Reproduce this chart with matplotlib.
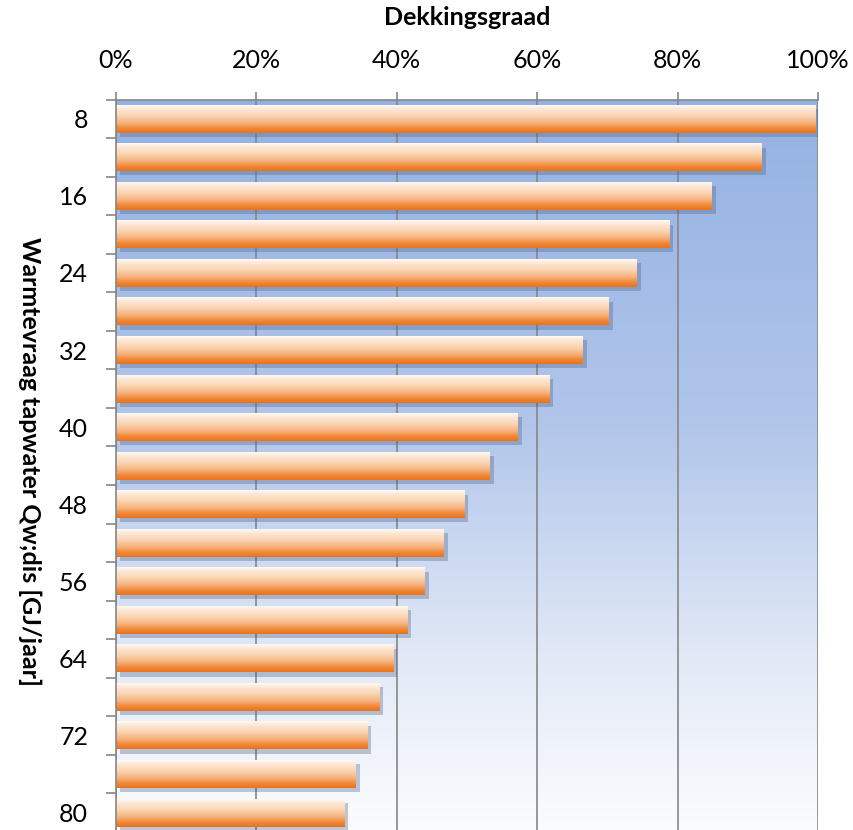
import matplotlib
matplotlib.use('Agg')
import matplotlib.pyplot as plt
import matplotlib.patheffects as pe
from matplotlib.colors import LinearSegmentedColormap
import numpy as np

# warmtevraag tapwater (GJ/jaar) and dekkingsgraad (%)
warmtevraag = [8, 12, 16, 20, 24, 28, 32, 36, 40, 44, 48, 52, 56, 60, 64, 68, 72, 76, 80]
dekking = [99.6, 92.0, 84.9, 78.8, 74.2, 70.2, 66.5, 61.7, 57.2, 53.2,
           49.6, 46.7, 44.0, 41.5, 39.5, 37.5, 35.8, 34.1, 32.5]
xticks = [0, 20, 40, 60, 80, 100]

plt.rcParams['font.family'] = ['Lato', 'DejaVu Sans']

fig = plt.figure(figsize=(8.54, 8.30), dpi=100)
ax = fig.add_axes([0.1358, -0.0024, 0.822, 0.8825])

n = len(warmtevraag)
ypos = np.arange(n)

# background gradient (blue top -> white bottom)
bg_cmap = LinearSegmentedColormap.from_list(
    'bg', [(0.0, '#93b1e2'), (0.45, '#b2c6ea'), (0.78, '#e4ebf7'), (1.0, '#fbfcfe')])
grad = np.linspace(0, 1, 256).reshape(-1, 1)
ax.imshow(grad, cmap=bg_cmap, aspect='auto', extent=(0, 100, n - 0.5, -0.5),
          origin='upper', zorder=0)

ax.set_axisbelow(True)
ax.grid(axis='x', color='#868686', linewidth=1.2, zorder=1)
ax.grid(axis='y', visible=False)

bar_cmap = LinearSegmentedColormap.from_list(
    'bar', [(0.0, '#fffaf4'), (0.12, '#fdeadb'), (0.40, '#fbd3b0'),
            (0.65, '#f7b07a'), (0.82, '#f08a3a'), (1.0, '#e9721c')])
bh = 0.72
bars = ax.barh(ypos, dekking, height=bh, color='#f6a463', zorder=2,
               path_effects=[pe.SimplePatchShadow(offset=(3, -3), shadow_rgbFace='#4f6287', alpha=0.35),
                             pe.Normal()])
for rect in bars:
    x0, y0 = rect.get_x(), rect.get_y()
    w, h = rect.get_width(), rect.get_height()
    ax.imshow(grad, cmap=bar_cmap, aspect='auto', extent=(x0, x0 + w, y0 + h, y0),
              origin='upper', zorder=3)

ax.set_xlim(0, 100)
ax.set_ylim(n - 0.5, -0.5)

ax.xaxis.tick_top()
ax.xaxis.set_label_position('top')
ax.set_xticks(xticks)
ax.set_xticklabels([f'{v}%' for v in xticks], fontsize=18)
ax.tick_params(axis='x', direction='out', length=6, width=1.2, color='#868686', pad=14)
ax.set_xlabel('Dekkingsgraad', fontsize=18, fontweight='bold', labelpad=17)

ax.set_yticks(np.arange(n + 1) - 0.5)
ax.set_yticklabels([])
ax.tick_params(axis='y', which='major', direction='out', length=7, width=1.2, color='#868686')
ax.set_yticks(ypos[::2], minor=True)
ax.set_yticklabels([str(v) for v in warmtevraag[::2]], minor=True, fontsize=18)
ax.tick_params(axis='y', which='minor', length=0, pad=20)

for s in ['right', 'bottom']:
    ax.spines[s].set_visible(False)
for s in ['top', 'left']:
    ax.spines[s].set_color('#868686')
    ax.spines[s].set_linewidth(1.2)
    ax.spines[s].set_zorder(5)

fig.text(30 / 854, 1 - 461 / 830, 'Warmtevraag tapwater Qw;dis [GJ/jaar]',
         rotation=270, fontsize=18, fontweight='bold', ha='center', va='center')

fig.savefig('out.png', dpi=100)
plt.close(fig)
